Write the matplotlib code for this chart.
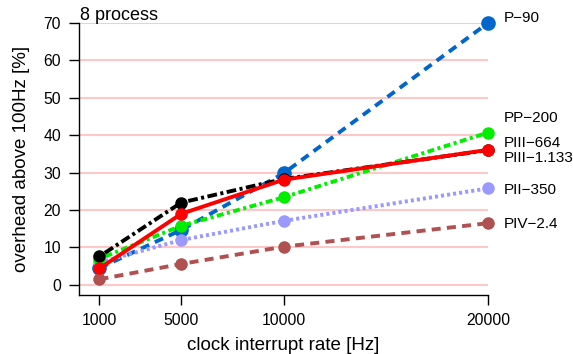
# Overhead of higher clock interrupt rates, 8 processes
import numpy as np
import matplotlib.pyplot as plt

plt.rcParams['font.family'] = ['Liberation Sans', 'DejaVu Sans']
plt.rcParams['lines.scale_dashes'] = False

rates = [1000, 5000, 10000, 20000]

p90 = [4.5, 14.7, 29.8, 70.0]
pp200 = [7.0, 15.8, 23.4, 40.7]
pii350 = [6.0, 12.0, 17.1, 25.8]
piii664 = [7.6, 22.0, 28.3, 36.0]
piii1133 = [4.4, 19.0, 28.1, 36.1]
piv24 = [1.5, 5.6, 10.2, 16.5]

names = ["P\u221290", "PP\u2212200", "PIII\u2212664", "PIII\u22121.133",
         "PII\u2212350", "PIV\u22122.4"]
# where each name sits at the right edge
name_y = [71.3, 44.6, 38.0, 33.9, 25.4, 16.3]

fig = plt.figure(figsize=(5.73, 3.54), dpi=100)
ax = fig.add_axes([79 / 573, 1 - 295 / 354, 409 / 573, 272 / 354])

ax.set_xlim(0, 20000)
ax.set_ylim(-2.7, 70)

# pink reference lines
for g in range(0, 80, 10):
    ax.axhline(g, color='#ffc8c8', lw=1.5, zorder=0)

lw = 2.8
ax.plot(rates, p90, color='#0066cc', lw=lw, dashes=(6.5, 4.5), marker='o', ms=9.5,
        clip_on=False, zorder=3)
ax.plot(rates, piv24, color='#b05050', lw=lw, dashes=(6.5, 4.5), marker='o', ms=8,
        clip_on=False, zorder=3)
ax.plot(rates, pii350, color='#9999ff', lw=lw, dashes=(2.2, 2.2), marker='o', ms=8,
        clip_on=False, zorder=3)
ax.plot(rates, pp200, color='#00ee00', lw=lw, dashes=(2.2, 2.5, 5, 2.5), marker='o', ms=8,
        clip_on=False, zorder=3)
ax.plot(rates, piii664, color='black', lw=lw, dashes=(2.2, 2.5, 7, 2.5), marker='o', ms=8,
        clip_on=False, zorder=4)
ax.plot(rates, piii1133, color='#ff0000', lw=lw, marker='o', ms=8,
        clip_on=False, zorder=5)

for name, y in zip(names, name_y):
    ax.text(20750, y, name, fontsize=11, ha='left', va='center', clip_on=False)

ax.set_xticks(rates)
ax.set_xticklabels([str(r) for r in rates])
ax.set_yticks(np.arange(0, 80, 10))
ax.tick_params(direction='out', length=7, width=1, pad=6, labelsize=11.3)

for s in ['top', 'right']:
    ax.spines[s].set_visible(False)
ax.spines['left'].set_linewidth(1)
ax.spines['bottom'].set_linewidth(1)

ax.set_xlabel("clock interrupt rate [Hz]", fontsize=13.5)
ax.xaxis.set_label_coords(0.5, -0.155)
ax.set_ylabel("overhead above 100Hz [%]", fontsize=13.5)
ax.yaxis.set_label_coords(-0.12, 0.5)

fig.text(80 / 573, 1 - 15 / 354, "8 process", fontsize=13, ha='left', va='center')

fig.savefig("out.png", dpi=100)
